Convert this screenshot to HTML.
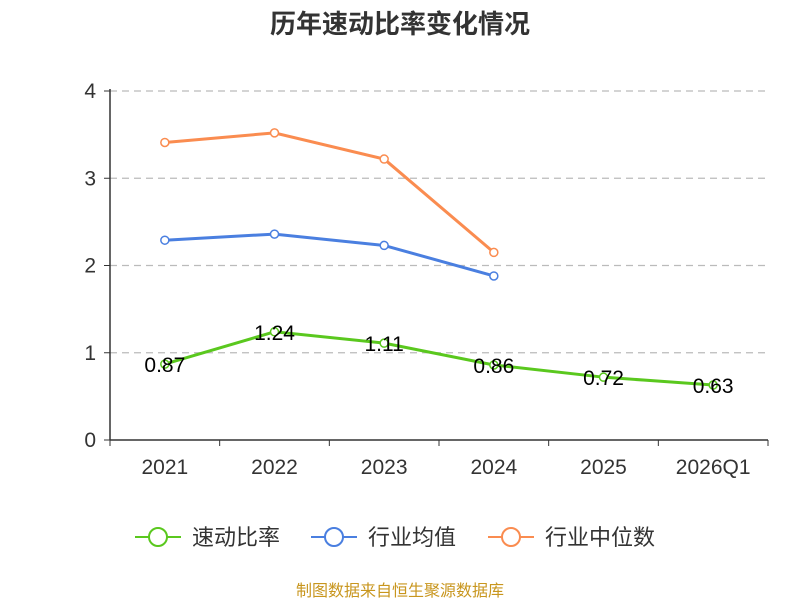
<!DOCTYPE html>
<html><head><meta charset="utf-8"><style>
body{margin:0;background:#fff}
svg{display:block;font-family:"Liberation Sans","Noto Sans CJK SC",sans-serif}
</style></head><body>
<svg id="chart" width="800" height="600" viewBox="0 0 800 600" xmlns="http://www.w3.org/2000/svg">
<text x="400" y="33" text-anchor="middle" font-size="26" font-weight="bold" fill="#333">历年速动比率变化情况</text>
<g id="grid"></g><g id="axes"></g><g id="series"></g>
<g id="legend"></g>
<text x="400" y="596" text-anchor="middle" font-size="16" fill="#c8961e">制图数据来自恒生聚源数据库</text>
</svg>
<script>
const categories=["2021","2022","2023","2024","2025","2026Q1"];
const quickRatio=[0.87,1.24,1.11,0.86,0.72,0.63];
const industryAvg=[2.29,2.36,2.23,1.88,null,null];
const industryMedian=[3.41,3.52,3.22,2.15,null,null];
const yTicks=[0,1,2,3,4];
const NS="http://www.w3.org/2000/svg";
const L=110,R=768,T=91,B=440;
const bw=(R-L)/categories.length;
const x=i=>L+bw*(i+0.5);
const y=v=>B-(v/4)*(B-T);
function mk(tag,attrs,parent,text){const e=document.createElementNS(NS,tag);for(const k in attrs)e.setAttribute(k,attrs[k]);if(text!=null)e.textContent=text;document.getElementById(parent).appendChild(e);return e;}
yTicks.forEach(t=>{
 if(t>0){const g=mk('line',{x1:L,x2:R,y1:y(t),y2:y(t),stroke:'#bbb','stroke-dasharray':'7,5','stroke-width':1.3},'grid');
 
 }
 const tk=mk('line',{x1:L-6,x2:L,y1:y(t),y2:y(t),stroke:'#333'},'axes');
 
 
 const lb=mk('text',{x:L-14,y:y(t)+7,'text-anchor':'end','font-size':21,fill:'#333'},'axes',t);
 
 
});
const ya=mk('line',{x1:L,x2:L,y1:T-2,y2:B,stroke:'#333','stroke-width':1.5},'axes');


const xa=mk('line',{x1:L,x2:R,y1:B,y2:B,stroke:'#333','stroke-width':1.5},'axes');


for(let i=0;i<=categories.length;i++){const t=mk('line',{x1:L+bw*i,x2:L+bw*i,y1:B,y2:B+6,stroke:'#333'},'axes');

}
categories.forEach((c,i)=>{const t=mk('text',{x:x(i),y:B+34,'text-anchor':'middle','font-size':21,fill:'#333'},'axes',c);

});
function series(data,color,name,labels){
 const pts=data.map((v,i)=>v==null?null:[x(i),y(v)]).filter(p=>p);
 const p=mk('polyline',{points:pts.map(p=>p.join(',')).join(' '),fill:'none',stroke:color,'stroke-width':3},'series');
 
 
 pts.forEach(q=>{const c=mk('circle',{cx:q[0],cy:q[1],r:4,fill:'#fff',stroke:color,'stroke-width':1.5},'series');
 
 });
 if(labels)data.forEach((v,i)=>{const t=mk('text',{x:x(i),y:y(v)+8,'text-anchor':'middle','font-size':21,fill:'#000'},'series',v.toFixed(2));
 
 });
}
series(industryMedian,'#fa8c50','industry-median',false);
series(industryAvg,'#4a7fe0','industry-average',false);
series(quickRatio,'#5ac81e','quick-ratio',true);
[["速动比率","#5ac81e",135,"legend-quick-ratio"],["行业均值","#4a7fe0",311,"legend-industry-average"],["行业中位数","#fa8c50",488,"legend-industry-median"]].forEach(([t,c,lx,n])=>{
 const g=mk('g',{},'legend');
 
 
 const ln=document.createElementNS(NS,'line');[['x1',lx],['x2',lx+46],['y1',537],['y2',537],['stroke',c],['stroke-width',2]].forEach(a=>ln.setAttribute(a[0],a[1]));g.appendChild(ln);
 const ci=document.createElementNS(NS,'circle');[['cx',lx+23],['cy',537],['r',9],['fill','#fff'],['stroke',c],['stroke-width',2]].forEach(a=>ci.setAttribute(a[0],a[1]));g.appendChild(ci);
 const tx=document.createElementNS(NS,'text');[['x',lx+57],['y',545],['font-size',22],['fill','#333']].forEach(a=>tx.setAttribute(a[0],a[1]));tx.textContent=t;g.appendChild(tx);
});
</script>
</body></html>
